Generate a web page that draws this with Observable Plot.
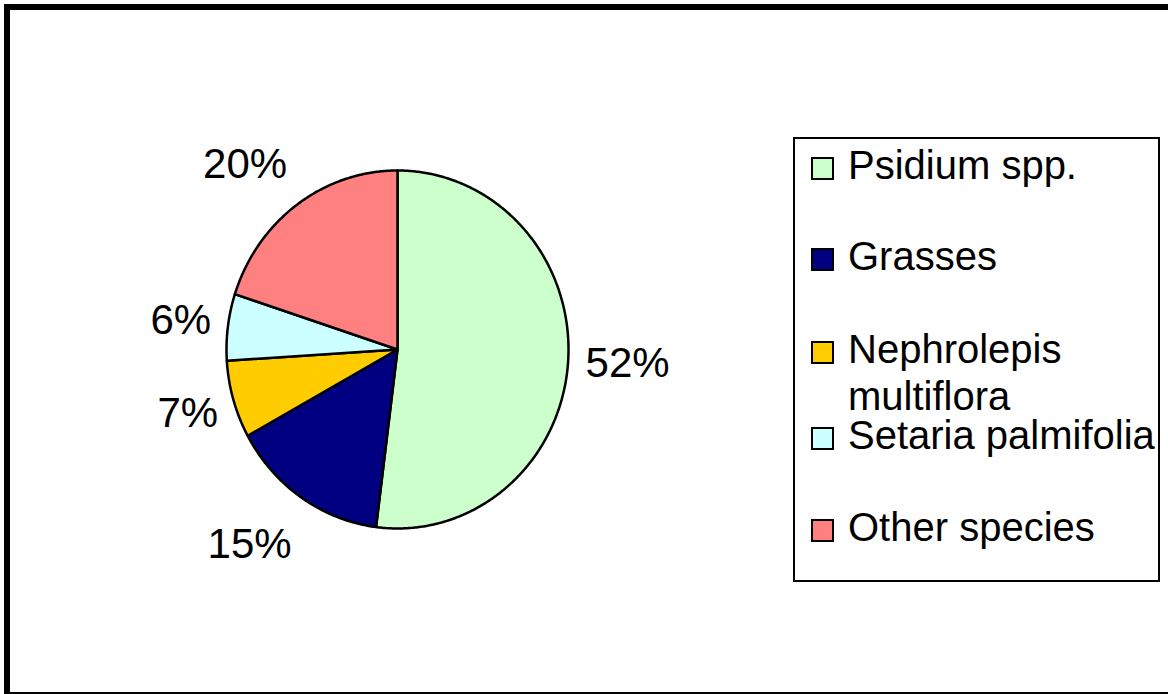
<!DOCTYPE html>
<html>
<head>
<meta charset="utf-8">
<script src="https://cdn.jsdelivr.net/npm/d3@7"></script>
<script src="https://cdn.jsdelivr.net/npm/@observablehq/plot@0.6"></script>
<style>
  html, body { margin: 0; padding: 0; background: #fff; }
  #wrap { position: relative; width: 1168px; height: 694px; overflow: hidden; background: #fff; }
  #wrap > svg { position: absolute; left: 0; top: 0; }
</style>
</head>
<body>
<div id="wrap"></div>
<script>
// ---- data ----
const species = ["Psidium spp.", "Grasses", "Nephrolepis multiflora", "Setaria palmifolia", "Other species"];
const shares = [52, 15, 7, 6, 20];
const colors = ["#CCFFCC", "#000080", "#FFCC00", "#CCFFFF", "#FF8080"];
const legendLines = [["Psidium spp."], ["Grasses"], ["Nephrolepis", "multiflora"], ["Setaria palmifolia"], ["Other species"]];

const FONT = "'Liberation Sans', Arial, Helvetica, sans-serif";
const LABEL_SIZE = 42;
const total = d3.sum(shares);

// slices: clockwise from 12 o'clock
let acc = 0;
const slices = species.map((name, i) => {
  const a0 = acc / total * 2 * Math.PI;
  acc += shares[i];
  const a1 = acc / total * 2 * Math.PI;
  return {name, value: shares[i], a0, a1, mid: (a0 + a1) / 2};
});

// polygon outline of each slice (unit circle, scaled by x/y scales)
const piePts = [];
for (const s of slices) {
  piePts.push({name: s.name, x: 0, y: 0});
  const n = Math.max(2, Math.ceil((s.a1 - s.a0) / (Math.PI / 360)));
  for (let k = 0; k <= n; k++) {
    const a = s.a0 + (s.a1 - s.a0) * k / n;
    piePts.push({name: s.name, x: Math.sin(a), y: Math.cos(a)});
  }
}

// label positions: text box just outside the rim
const RX = 171, RY = 179;
const labels = slices.map(s => {
  const sx = Math.sin(s.mid), cy = Math.cos(s.mid);
  const text = s.value + "%";
  const halfW = ((text.length - 1) * 0.556 + 0.889) * LABEL_SIZE / 2;
  const gap = 18 - 10 * Math.abs(cy);
  const k = 50 + 8 * Math.max(0, -cy);
  return {
    text,
    x: sx + Math.sign(sx) * (halfW + gap) / RX,
    y: cy + cy * k / RY
  };
});

const chart = Plot.plot({
  width: 1168,
  height: 694,
  margin: 0,
  x: {domain: [-1, 1], range: [226, 568], axis: null},
  y: {domain: [-1, 1], range: [528, 170], axis: null},
  color: {domain: species, range: colors},
  style: {fontFamily: FONT, background: "transparent"},
  marks: [
    Plot.line(piePts, {x: "x", y: "y", z: "name", fill: "name", stroke: "#000", strokeWidth: 2.5,
      curve: "linear-closed", strokeLinejoin: "round"}),
    Plot.text(labels, {x: "x", y: "y", text: "text", fontSize: LABEL_SIZE, fill: "#000",
      textAnchor: "middle", lineAnchor: "middle", fontFamily: FONT})
  ]
});
document.getElementById("wrap").appendChild(chart);

// overlay: outer frame + legend
const ov = d3.select("#wrap").append("svg")
  .attr("width", 1168).attr("height", 694)
  .style("font-family", FONT);

ov.append("rect").attr("x", 7).attr("y", 7).attr("width", 1200).attr("height", 688)
  .attr("fill", "none").attr("stroke", "#000").attr("stroke-width", 6);

ov.append("rect").attr("x", 794).attr("y", 138).attr("width", 365).attr("height", 443)
  .attr("fill", "#fff").attr("stroke", "#000").attr("stroke-width", 2);

const baselines = [179, 270, 363, 449, 541];
species.forEach((name, i) => {
  const b = baselines[i];
  ov.append("rect").attr("x", 812).attr("y", b - 21).attr("width", 21).attr("height", 21)
    .attr("fill", colors[i]).attr("stroke", "#000").attr("stroke-width", 2);
  const t = ov.append("text").attr("x", 848).attr("y", b).attr("font-size", 40).attr("fill", "#000");
  legendLines[i].forEach((line, j) => {
    t.append("tspan").attr("x", 848).attr("y", b + j * 47).text(line);
  });
});
</script>
</body>
</html>
